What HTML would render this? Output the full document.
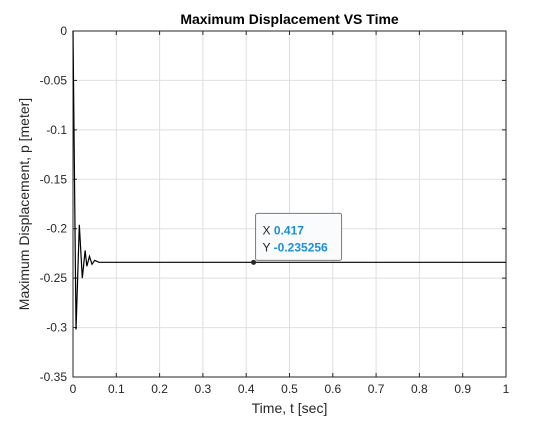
<!DOCTYPE html>
<html><head><meta charset="utf-8"><style>
body{margin:0;background:#fff;font-family:"Liberation Sans",sans-serif}
svg text{font-family:"Liberation Sans",sans-serif}
</style></head><body>
<svg id="c" width="560" height="420" xmlns="http://www.w3.org/2000/svg">
<rect width="560" height="420" fill="#fff"/>
</svg>
<script>
const xTicks=[0,0.1,0.2,0.3,0.4,0.5,0.6,0.7,0.8,0.9,1];
const xTickLabels=["0","0.1","0.2","0.3","0.4","0.5","0.6","0.7","0.8","0.9","1"];
const yTicks=[0,-0.05,-0.1,-0.15,-0.2,-0.25,-0.3,-0.35];
const yTickLabels=["0","-0.05","-0.1","-0.15","-0.2","-0.25","-0.3","-0.35"];
const tVals=[0,0.007,0.0146,0.0215,0.028,0.032,0.038,0.044,0.05,0.06,0.417,1];
const pVals=[0,-0.302,-0.196,-0.25,-0.222,-0.238,-0.228,-0.236,-0.232,-0.234,-0.234,-0.234];
const markX=0.417, markY=-0.235256;
const L=73,R=506,T=31,B=377;
const sx=v=>L+(v-0)/(1-0)*(R-L);
const sy=v=>T+(0-v)/(0.35)*(B-T);
const svg=document.getElementById('c');const NS="http://www.w3.org/2000/svg";
function mk(tag,attrs,parent){const e=document.createElementNS(NS,tag);for(const k in attrs)e.setAttribute(k,attrs[k]);(parent||svg).appendChild(e);return e;}
const grid=mk('g',{});


xTicks.forEach((v,i)=>{
  mk('line',{x1:sx(v),x2:sx(v),y1:T,y2:B,stroke:'#dfdfdf','stroke-width':1},grid);
  mk('line',{x1:sx(v),x2:sx(v),y1:B,y2:B-4,stroke:'#262626'},grid);
  mk('line',{x1:sx(v),x2:sx(v),y1:T,y2:T+4,stroke:'#262626'},grid);
  const t=mk('text',{x:sx(v),y:B+16,'text-anchor':'middle','font-size':12,fill:'#262626'});
  t.textContent=xTickLabels[i];
  
  
});
yTicks.forEach((v,i)=>{
  mk('line',{x1:L,x2:R,y1:sy(v),y2:sy(v),stroke:'#dfdfdf','stroke-width':1},grid);
  mk('line',{x1:L,x2:L+4,y1:sy(v),y2:sy(v),stroke:'#262626'},grid);
  mk('line',{x1:R,x2:R-4,y1:sy(v),y2:sy(v),stroke:'#262626'},grid);
  const t=mk('text',{x:L-6,y:sy(v)+4,'text-anchor':'end','font-size':12,fill:'#262626'});
  t.textContent=yTickLabels[i];
  
  
});
const box=mk('rect',{x:L,y:T,width:R-L,height:B-T,fill:'none',stroke:'#262626','stroke-width':1});


const line=mk('polyline',{points:tVals.map((t,i)=>sx(t)+','+sy(pVals[i])).join(' '),fill:'none',stroke:'#000','stroke-width':1.2});


const title=mk('text',{x:(L+R)/2,y:24,'text-anchor':'middle','font-size':14,'font-weight':'bold',fill:'#000'});
title.textContent='Maximum Displacement VS Time';


const xl=mk('text',{x:(L+R)/2,y:413,'text-anchor':'middle','font-size':14,fill:'#262626'});
xl.textContent='Time, t [sec]';


const yl=mk('text',{x:0,y:0,'text-anchor':'middle','font-size':14,fill:'#262626',transform:`translate(29,${(T+B)/2}) rotate(-90)`});
yl.textContent='Maximum Displacement, p [meter]';


const mx=sx(markX),my=sy(pVals[pVals.length-1]);
const dot=mk('circle',{cx:mx,cy:my,r:2.5,fill:'#262626'});


const tip=mk('g',{});


mk('rect',{x:mx+2,y:my-49,width:86,height:47,rx:2,fill:'#fafbfd',stroke:'#7a7a7a','stroke-width':1},tip);
const t1=mk('text',{x:mx+9,y:my-28,'font-size':12,fill:'#262626'},tip);
t1.innerHTML='X <tspan font-weight="bold" fill="#1a8fe0">'+markX+'</tspan>';
const t2=mk('text',{x:mx+9,y:my-11,'font-size':12,fill:'#262626'},tip);
t2.innerHTML='Y <tspan font-weight="bold" fill="#1a8fe0">'+markY+'</tspan>';
</script>
</body></html>
